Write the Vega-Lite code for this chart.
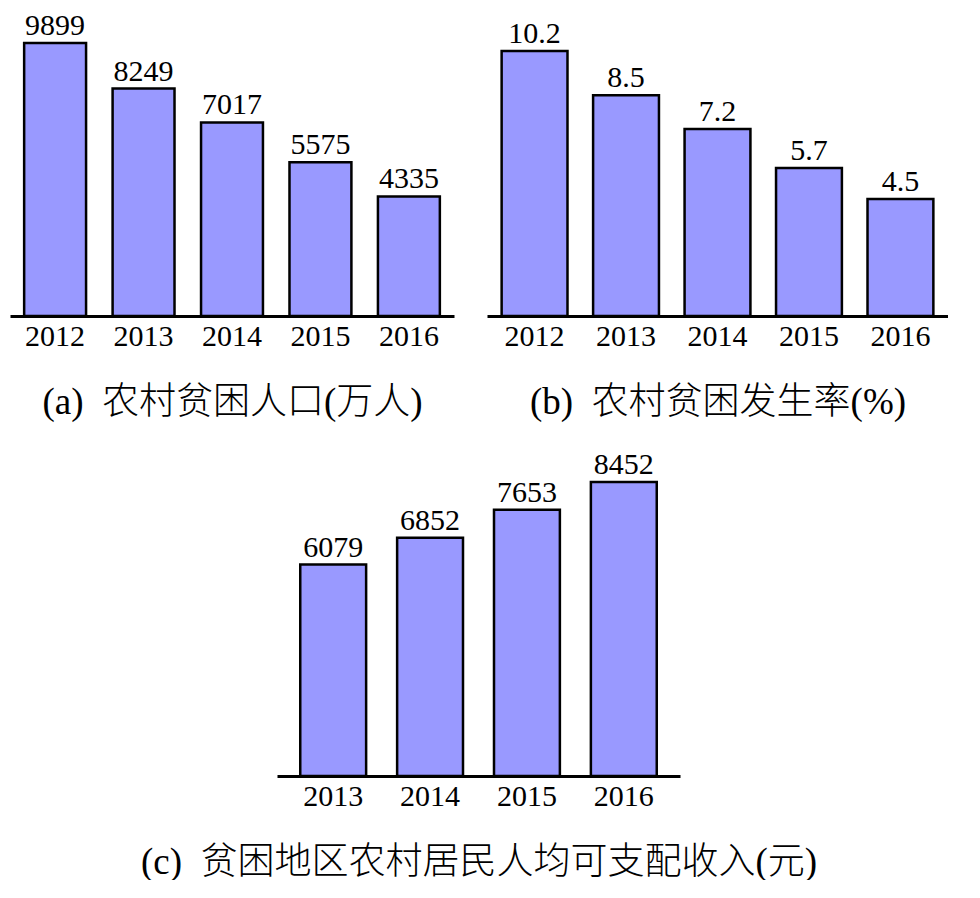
{
  "$schema": "https://vega.github.io/schema/vega-lite/v6.json",
  "background": "white",
  "padding": {"left": 10, "top": 10, "right": 0, "bottom": 0},
  "config": {
    "view": {"stroke": null},
    "font": "Liberation Serif, Noto Sans CJK SC",
    "axis": {
      "domainColor": "black", "domainWidth": 3, "ticks": false, "grid": false,
      "labelFont": "Liberation Serif", "labelFontSize": 30, "labelColor": "black", "labelPadding": 5, "labelAngle": 0,
      "titleFont": "Liberation Serif, Noto Sans CJK SC", "titleFontSize": 37, "titleFontWeight": 300, "titleColor": "black", "titlePadding": 33
    },
    "bar": {"fill": "#9999FF", "stroke": "black", "strokeWidth": 2.5},
    "text": {"font": "Liberation Serif", "fontSize": 30, "color": "black", "baseline": "alphabetic", "dy": -8},
    "concat": {"spacing": 26}
  },
  "datasets": {
    "a": [{"year": "2012", "v": 9899, "label": "9899"}, {"year": "2013", "v": 8249, "label": "8249"}, {"year": "2014", "v": 7017, "label": "7017"}, {"year": "2015", "v": 5575, "label": "5575"}, {"year": "2016", "v": 4335, "label": "4335"}],
    "b": [{"year": "2012", "v": 10.2, "label": "10.2"}, {"year": "2013", "v": 8.5, "label": "8.5"}, {"year": "2014", "v": 7.2, "label": "7.2"}, {"year": "2015", "v": 5.7, "label": "5.7"}, {"year": "2016", "v": 4.5, "label": "4.5"}],
    "c": [{"year": "2013", "v": 6079, "label": "6079"}, {"year": "2014", "v": 6852, "label": "6852"}, {"year": "2015", "v": 7653, "label": "7653"}, {"year": "2016", "v": 8452, "label": "8452"}]
  },
  "vconcat": [
    {
      "hconcat": [
        {
          "width": 444, "height": 306,
          "data": {"name": "a"},
          "encoding": {
            "x": {"field": "year", "type": "nominal", "scale": {"paddingInner": 0.3, "paddingOuter": 0.16}, "axis": {"title": "(a) \u00a0农村贫困人口(万人)"}},
            "y": {"field": "v", "type": "quantitative", "scale": {"domain": [0, 11096], "nice": false}, "axis": null}
          },
          "layer": [
            {"mark": "bar"},
            {"mark": "text", "encoding": {"text": {"field": "label"}}}
          ]
        },
        {
          "width": 461, "height": 306,
          "data": {"name": "b"},
          "encoding": {
            "x": {"field": "year", "type": "nominal", "scale": {"paddingInner": 0.28, "paddingOuter": 0.16}, "axis": {"title": "(b) \u00a0农村贫困发生率(%)"}},
            "y": {"field": "v", "type": "quantitative", "scale": {"domain": [0, 11.78], "nice": false}, "axis": null}
          },
          "layer": [
            {"mark": "bar"},
            {"mark": "text", "encoding": {"text": {"field": "label"}}}
          ]
        }
      ],
      "spacing": 33
    },
    {
      "width": 670, "height": 330,
      "data": {"name": "c"},
      "encoding": {
        "x": {"field": "year", "type": "nominal", "scale": {"range": [267, 670], "paddingInner": 0.32, "paddingOuter": 0.24}, "axis": {"title": "(c) \u00a0贫困地区农村居民人均可支配收入(元)"}},
        "y": {"field": "v", "type": "quantitative", "scale": {"domain": [0, 9488], "nice": false}, "axis": null}
      },
      "layer": [
        {"mark": "bar"},
        {"mark": "text", "encoding": {"text": {"field": "label"}}}
      ]
    }
  ]
}
